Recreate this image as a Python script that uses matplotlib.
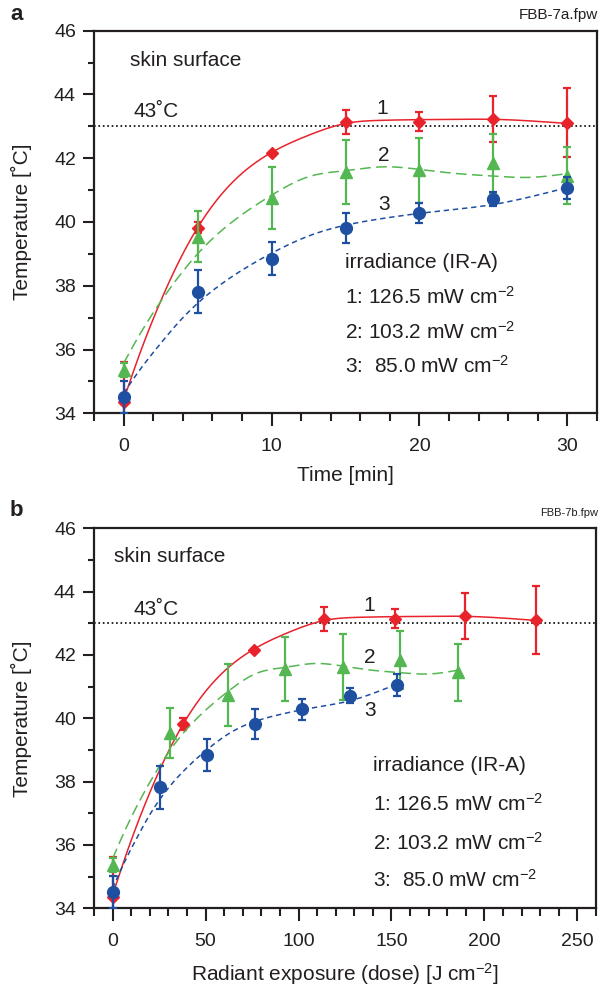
import numpy as np
import matplotlib
matplotlib.use("Agg")
import matplotlib.pyplot as plt
from matplotlib.ticker import MultipleLocator

plt.rcParams["font.family"] = ["Liberation Sans", "DejaVu Sans"]
plt.rcParams["mathtext.fontset"] = "custom"
plt.rcParams["mathtext.rm"] = "Liberation Sans"
plt.rcParams["mathtext.default"] = "regular"

TXT = "#231f20"
RED = "#e8232b"
GREEN = "#55b752"
BLUE = "#1e4fa0"

# exposure time [min]
time = [0, 5, 10, 15, 20, 25, 30]
# radiant exposure [J cm-2] for each irradiance
dose1 = [0, 38.0, 75.9, 113.9, 151.8, 189.8, 227.7]
dose2 = [0, 31.0, 61.9, 92.9, 123.8, 154.8, 185.8]
dose3 = [0, 25.5, 51.0, 76.5, 102.0, 127.5, 153.0]

# skin surface temperature [C] and error
temp1 = [34.37, 39.82, 42.17, 43.13, 43.15, 43.23, 43.11]
err1 = [1.25, 0.18, 0.0, 0.38, 0.30, 0.73, 1.08]
temp2 = [35.36, 39.54, 40.74, 41.56, 41.62, 41.84, 41.45]
err2 = [0.22, 0.80, 0.97, 1.01, 1.03, 0.92, 0.90]
temp3 = [34.52, 37.82, 38.85, 39.82, 40.28, 40.72, 41.06]
err3 = [0.50, 0.67, 0.51, 0.47, 0.32, 0.23, 0.34]

# fitted curves
fit_time = [0, 1, 2.5, 3.75, 5, 7.5, 10, 12.5, 15, 17.5, 20, 22.5, 25, 27.5, 30]
fit1 = [34.42, 35.75, 37.51, 38.77, 39.82, 41.31, 42.18, 42.72, 43.09, 43.19,
        43.21, 43.22, 43.22, 43.17, 43.09]
fit2 = [35.57, 36.4, 37.5, 38.3, 39.0, 40.06, 40.84, 41.42, 41.61, 41.73,
        41.65, 41.52, 41.44, 41.4, 41.52]
fit3 = [34.63, 35.3, 36.19, 36.87, 37.45, 38.34, 39.02, 39.56, 39.9, 40.11,
        40.27, 40.4, 40.55, 40.79, 41.08]

irr_labels = ["1: 126.5 mW cm$^{-2}$", "2: 103.2 mW cm$^{-2}$", "3:  85.0 mW cm$^{-2}$"]
curve_labels = ["1", "2", "3"]

styles = [
    dict(color=RED, marker="D", ms=6.4, dashes=None),
    dict(color=GREEN, marker="^", ms=8.5, dashes=(7, 3.5)),
    dict(color=BLUE, marker="o", ms=8.5, dashes=(3.5, 2.5)),
]


def spline(x, y, n=300):
    # natural cubic spline through the read curve points
    x = np.asarray(x, float)
    y = np.asarray(y, float)
    h = np.diff(x)
    m = len(x)
    A = np.zeros((m, m))
    r = np.zeros(m)
    A[0, 0] = A[-1, -1] = 1
    for i in range(1, m - 1):
        A[i, i - 1] = h[i - 1]
        A[i, i] = 2 * (h[i - 1] + h[i])
        A[i, i + 1] = h[i]
        r[i] = 6 * ((y[i + 1] - y[i]) / h[i] - (y[i] - y[i - 1]) / h[i - 1])
    M = np.linalg.solve(A, r)
    xs = np.linspace(x[0], x[-1], n)
    k = np.clip(np.searchsorted(x, xs) - 1, 0, m - 2)
    a = x[k + 1] - xs
    b = xs - x[k]
    hk = h[k]
    ys = (M[k] * a ** 3 + M[k + 1] * b ** 3) / (6 * hk) \
        + (y[k] / hk - M[k] * hk / 6) * a + (y[k + 1] / hk - M[k + 1] * hk / 6) * b
    return xs, ys


def draw_panel(ax, xs_list, xlim, major, minor, xlabel, txt):
    ys_list = [temp1, temp2, temp3]
    es_list = [err1, err2, err3]
    fits = [fit1, fit2, fit3]
    for i, (x, y, e) in enumerate(zip(xs_list, ys_list, es_list)):
        st = styles[i]
        ft, fy = spline(fit_time, fits[i])
        fx = np.interp(ft, time, x)
        ln, = ax.plot(fx, fy, color=st["color"], lw=1.1, zorder=2 + i)
        if st["dashes"]:
            ln.set_dashes(st["dashes"])
        ax.errorbar(x, y, yerr=e, fmt=st["marker"], color=st["color"], ms=st["ms"],
                    mec=st["color"], elinewidth=1.6, capsize=2.6, capthick=1.6,
                    zorder=3 + i)
    ax.axhline(43, color="black", ls=":", lw=1.2, zorder=1)

    ax.set_xlim(*xlim)
    ax.set_ylim(34, 46)
    ax.xaxis.set_major_locator(MultipleLocator(major))
    ax.xaxis.set_minor_locator(MultipleLocator(minor))
    ax.yaxis.set_major_locator(MultipleLocator(2))
    ax.yaxis.set_minor_locator(MultipleLocator(1))
    ax.tick_params(which="both", direction="out", width=1.5, colors=TXT,
                   labelsize=14, top=False, right=False)
    ax.tick_params(axis="x", which="major", length=9, pad=9)
    ax.tick_params(axis="x", which="minor", length=5.5)
    ax.tick_params(axis="y", which="major", length=8, pad=5)
    ax.tick_params(axis="y", which="minor", length=4)
    for sp in ax.spines.values():
        sp.set_linewidth(1.6)
        sp.set_color(TXT)
    ax.set_xlabel(xlabel, fontsize=15, color=TXT, labelpad=8)
    ax.set_ylabel("Temperature [˚C]", fontsize=15, color=TXT, labelpad=16)

    kw = dict(fontsize=15, color=TXT)
    ax.text(txt["skin"][0], txt["skin"][1], "skin surface", va="center", **kw)
    ax.text(txt["deg"][0], txt["deg"][1], "43˚C", va="center", **kw)
    for lab, (lx, ly) in zip(curve_labels, txt["num"]):
        ax.text(lx, ly, lab, ha="center", va="center", **kw)
    ix, iy = txt["irr"]
    ax.text(ix, iy[0], "irradiance (IR-A)", va="center", **kw)
    for lab, ly in zip(irr_labels, iy[1:]):
        ax.text(ix, ly, lab, va="center", **kw)


fig = plt.figure(figsize=(6.03, 9.86), dpi=100)
ax_a = fig.add_axes([94 / 603, 1 - 413.3 / 986, 503 / 603, 382.6 / 986])
ax_b = fig.add_axes([94 / 603, 1 - 908.3 / 986, 502 / 603, 380.0 / 986])

draw_panel(ax_a, [time, time, time], (-2, 32), 10, 2, "Time [min]",
           dict(skin=(0.4, 45.06), deg=(0.7, 43.46),
                num=[(17.5, 43.56), (17.6, 42.1), (17.6, 40.55)],
                irr=(14.97, [38.72, 37.64, 36.56, 35.48])))
draw_panel(ax_b, [dose1, dose2, dose3], (-10, 260), 50, 10,
           "Radiant exposure (dose) [J cm$^{-2}$]",
           dict(skin=(0.5, 45.1), deg=(11.3, 43.42),
                num=[(138.2, 43.56), (138.5, 41.93), (138.5, 40.25)],
                irr=(140.3, [38.5, 37.31, 36.08, 34.9])))

fig.text(10 / 603, 1 - 15 / 986, "a", fontsize=16, fontweight="bold", color=TXT, va="center")
fig.text(598 / 603, 1 - 15 / 986, "FBB-7a.fpw", fontsize=11, color=TXT, ha="right", va="center")
fig.text(10 / 603, 1 - 511 / 986, "b", fontsize=16, fontweight="bold", color=TXT, va="center")
fig.text(598 / 603, 1 - 513 / 986, "FBB-7b.fpw", fontsize=8, color=TXT, ha="right", va="center")

fig.savefig("out.png", dpi=100)
